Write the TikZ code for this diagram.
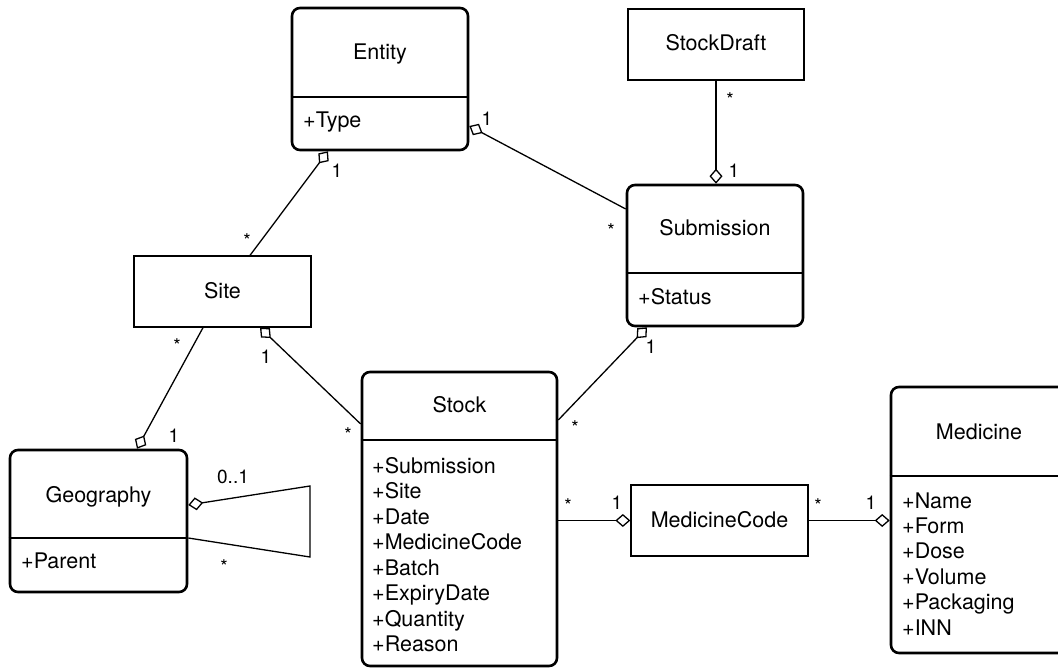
\documentclass[tikz,border=0pt]{standalone}
\usepackage{fontspec}
\setmainfont{TeX Gyre Heros}
\usetikzlibrary{arrows.meta}

\tikzset{
  cls/.style={draw, line width=2.6pt, rounded corners=8pt, inner sep=0pt},
  plain/.style={draw, line width=1.3pt, inner sep=0pt},
  divider/.style={line width=2.6pt},
  title/.style={font=\fontsize{21.5}{25}\selectfont, anchor=base, inner sep=0pt},
  attr/.style={font=\fontsize{21.5}{25}\selectfont, anchor=base west, inner sep=0pt},
  mult/.style={font=\fontsize{19}{22}\selectfont, anchor=base, inner sep=0pt},
  assoc/.style={line width=1.3pt},
  agg/.style={assoc, -{Diamond[open, length=15pt, width=13pt, line width=1.3pt]}},
  gga/.style={assoc, {Diamond[open, length=15pt, width=13pt, line width=1.3pt]}-},
}

\begin{document}
\begin{tikzpicture}[x=1pt, y=-1pt]
  \useasboundingbox (0,0) rectangle (1058,668);
  \clip (0,0) rectangle (1058,668);

  % ---- class boxes ----
  \node[cls, minimum width=176pt, minimum height=142pt] (entity) at (380,79) {};
  \draw[divider] (entity.west |- 0,97) -- (entity.east |- 0,97);
  \node[title] (entityT) at (380,60) {Entity};
  \node[attr] (entityA) at (303,128) {+Type};

  \node[plain, minimum width=176pt, minimum height=71pt] (draft) at (716,44.5) {};
  \node[title] (draftT) at (716,51) {StockDraft};

  \node[cls, minimum width=176pt, minimum height=141pt] (subm) at (715,255.5) {};
  \draw[divider] (subm.west |- 0,273) -- (subm.east |- 0,273);
  \node[title] (submT) at (715,236) {Submission};
  \node[attr] (submA) at (638,305) {+Status};

  \node[plain, minimum width=177pt, minimum height=71pt] (site) at (222.5,291.5) {};
  \node[title] (siteT) at (222.5,299) {Site};

  \node[cls, minimum width=177pt, minimum height=142pt] (geo) at (98.5,521) {};
  \draw[divider] (geo.west |- 0,538) -- (geo.east |- 0,538);
  \node[title] (geoT) at (98.5,502) {Geography};
  \node[attr] (geoA) at (21,568) {+Parent};

  \node[cls, minimum width=195pt, minimum height=294pt] (stock) at (459.5,519) {};
  \draw[divider] (stock.west |- 0,440) -- (stock.east |- 0,440);
  \node[title] (stockT) at (459.5,413) {Stock};
  \foreach \t [count=\i from 0] in {Submission,Site,Date,MedicineCode,Batch,ExpiryDate,Quantity,Reason}
    \node[attr] (stockA\i) at (372,473+25.5*\i) {+\t};

  \node[plain, minimum width=177pt, minimum height=71pt] (code) at (719.5,520.5) {};
  \node[title] (codeT) at (719.5,527) {MedicineCode};

  \node[cls, minimum width=176pt, minimum height=266pt] (med) at (979,520) {};
  \draw[divider] (med.west |- 0,476) -- (med.east |- 0,476);
  \node[title] (medT) at (979,439) {Medicine};
  \foreach \t [count=\i from 0] in {Name,Form,Dose,Volume,Packaging,INN}
    \node[attr] (medA\i) at (902,508+25.4*\i) {+\t};

  % ---- associations ----
  \draw[gga] ([xshift=-52pt]entity.south) -- ([xshift=27.5pt]site.north);
  \draw[gga] (entity.east |- 0,126) -- (subm.west |- 0,209);
  \draw[agg] (draft.south) -- (draft.south |- subm.north);
  \draw[agg] ([xshift=-19.5pt]site.south) -- ([xshift=38.5pt]geo.north);
  \draw[gga] ([xshift=37.5pt]site.south) -- (stock.west |- 0,424);
  \draw[gga] ([xshift=-68pt]subm.south) -- (stock.east |- 0,420);
  \draw[agg] (stock.east |- code.west) -- (code.west);
  \draw[agg] (code.east) -- (med.west |- code.east);

  % self association of Geography
  \coordinate (loopA) at (310,486);
  \coordinate (loopB) at (310,557);
  \draw[gga] (geo.east |- 0,505) -- (loopA) -- (loopB) -- (geo.east |- 0,538);

  % ---- multiplicities ----
  \node[mult] (m1) at (337,178) {1};
  \node[mult] (m2) at (247,248) {*};
  \node[mult] (m3) at (487,126) {1};
  \node[mult] (m4) at (611,238) {*};
  \node[mult] (m5) at (730,107) {*};
  \node[mult] (m6) at (734,178) {1};
  \node[mult] (m7) at (177,353) {*};
  \node[mult] (m8) at (174,442) {1};
  \node[mult] (m9) at (266,363) {1};
  \node[mult] (m10) at (348,441) {*};
  \node[mult] (m11) at (651,354) {1};
  \node[mult] (m12) at (575,434) {*};
  \node[mult] (m13) at (568,512) {*};
  \node[mult] (m14) at (617,509) {1};
  \node[mult] (m15) at (818,512) {*};
  \node[mult] (m16) at (871,509) {1};
  \node[mult] (m17) at (233,483) {0..1};
  \node[mult] (m18) at (224,573) {*};
\end{tikzpicture}
\end{document}
